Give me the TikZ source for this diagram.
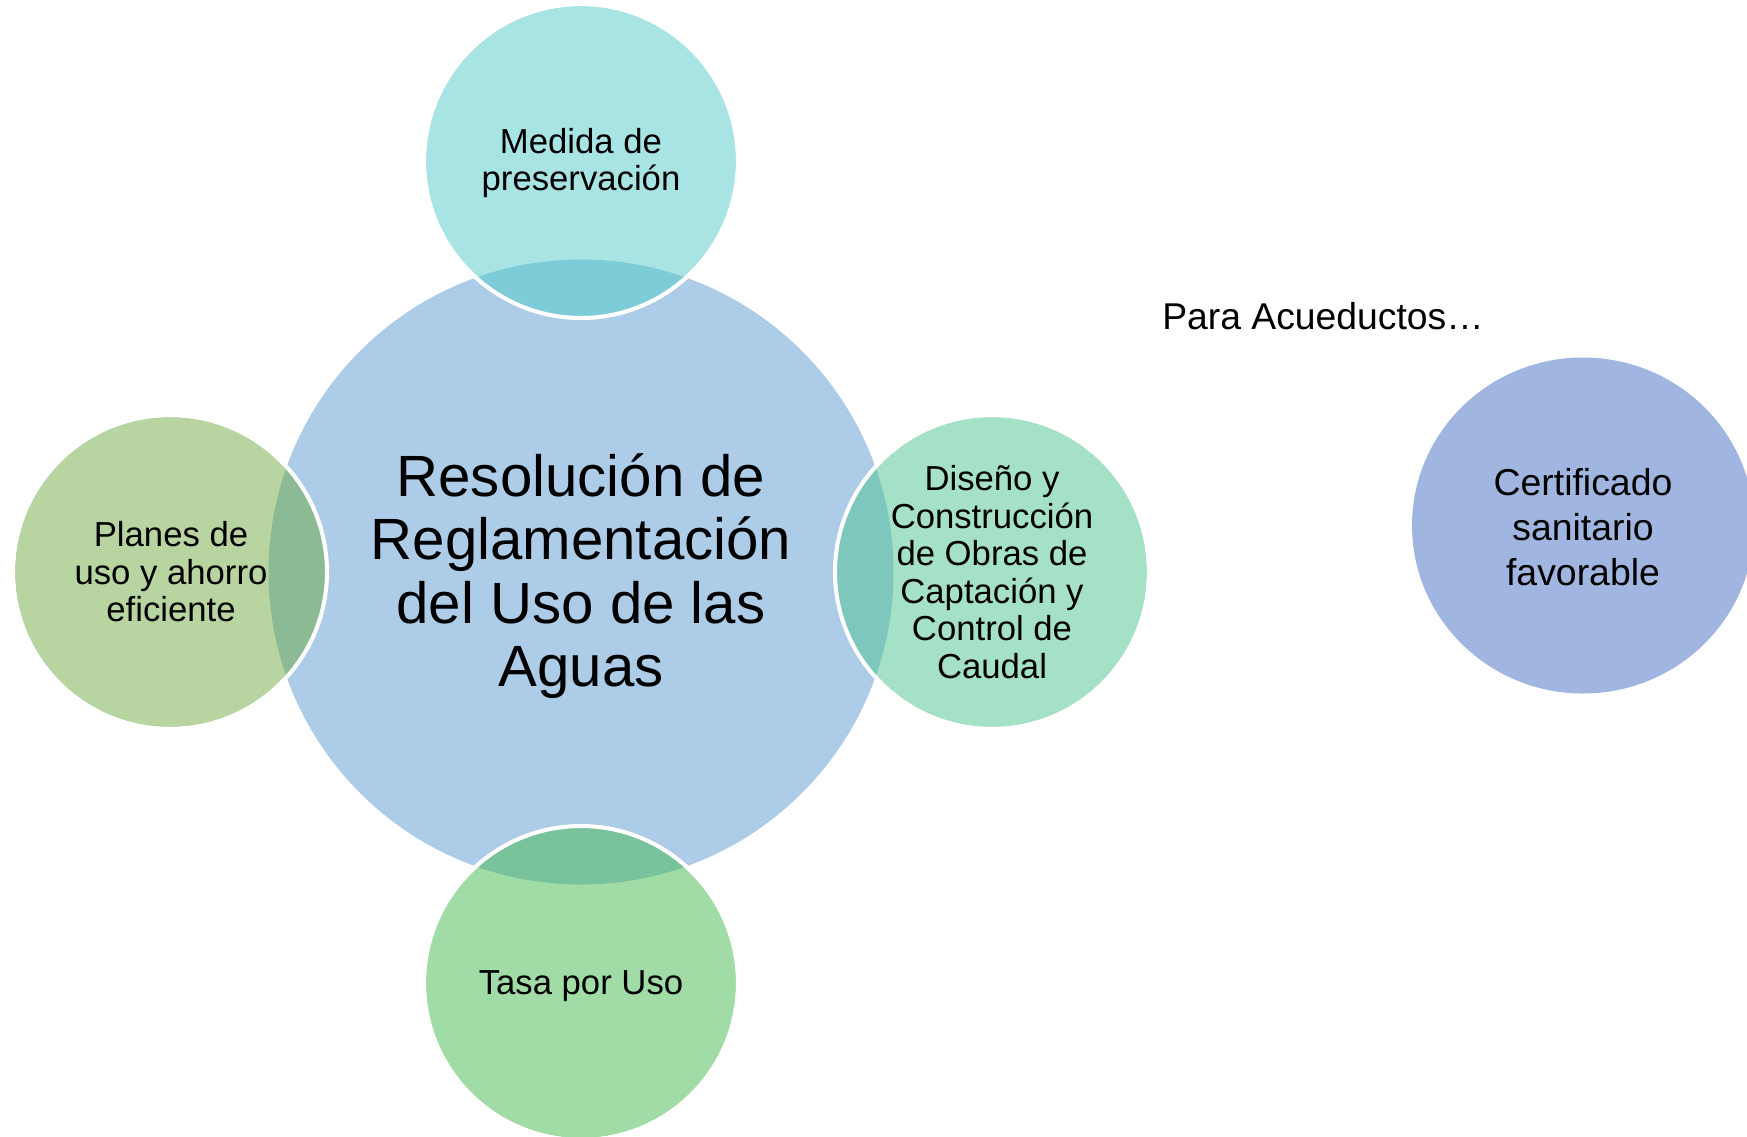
\documentclass[tikz,border=0pt]{standalone}
\usepackage{fontspec}
\setmainfont{Liberation Sans}
\definecolor{cbig}{RGB}{172,204,232}
\definecolor{ctop}{RGB}{168,228,227}
\definecolor{ctopov}{RGB}{127,204,217}
\definecolor{cleft}{RGB}{184,213,161}
\definecolor{cleftov}{RGB}{140,186,148}
\definecolor{cright}{RGB}{165,225,199}
\definecolor{crightov}{RGB}{125,199,188}
\definecolor{cbot}{RGB}{161,220,166}
\definecolor{cbotov}{RGB}{120,195,156}
\definecolor{ccert}{RGB}{160,182,224}
\begin{document}
\begin{tikzpicture}[x=1pt,y=-1pt,
  lbl/.style={inner sep=0pt, align=center, text=black},
  smalltxt/.style={lbl, font=\fontsize{34.7}{37.5}\selectfont},
  bigtxt/.style={lbl, font=\fontsize{58.2}{63.5}\selectfont},
  certtxt/.style={lbl, font=\fontsize{37.4}{45}\selectfont},
  paratxt/.style={lbl, font=\fontsize{37.3}{44}\selectfont},
  ring/.style={draw=white, line width=4pt}]
\useasboundingbox (0,0) rectangle (1747,1136);
\clip (0,0) rectangle (1747,1136);
% central circle
\fill[cbig] (581,572) circle[radius=312.5pt];
% top
\fill[ctop] (581,161) circle[radius=155pt];
\begin{scope}
  \clip (581,572) circle[radius=312.5pt];
  \fill[ctopov] (581,161) circle[radius=155pt];
\end{scope}
\draw[ring] (581,161) circle[radius=157pt];
% left
\fill[cleft] (170,572) circle[radius=155pt];
\begin{scope}
  \clip (581,572) circle[radius=312.5pt];
  \fill[cleftov] (170,572) circle[radius=155pt];
\end{scope}
\draw[ring] (170,572) circle[radius=157pt];
% right
\fill[cright] (992,572) circle[radius=155pt];
\begin{scope}
  \clip (581,572) circle[radius=312.5pt];
  \fill[crightov] (992,572) circle[radius=155pt];
\end{scope}
\draw[ring] (992,572) circle[radius=157pt];
% bottom
\fill[cbot] (581,983) circle[radius=155pt];
\begin{scope}
  \clip (581,572) circle[radius=312.5pt];
  \fill[cbotov] (581,983) circle[radius=155pt];
\end{scope}
\draw[ring] (581,983) circle[radius=157pt];
% certificado
\fill[ccert] (1583,525.5) ellipse[x radius=171pt, y radius=168pt];
% texts
\node[bigtxt] (res) at (581,576) {Resolución de\\Reglamentación\\del Uso de las\\Aguas};
\node[smalltxt] (med) at (581,163) {Medida de\\preservación};
\node[smalltxt] (pla) at (171,572) {Planes de\\uso y ahorro\\eficiente};
\node[smalltxt] (dis) at (992,572) {Diseño y\\Construcción\\de Obras de\\Captación y\\Control de\\Caudal};
\node[smalltxt] (tas) at (581,986) {Tasa por Uso};
\node[certtxt] (cer) at (1583,527) {Certificado\\sanitario\\favorable};
\node[paratxt, anchor=base] (par) at (1323,329.3) {Para Acueductos…};
\end{tikzpicture}
\end{document}
